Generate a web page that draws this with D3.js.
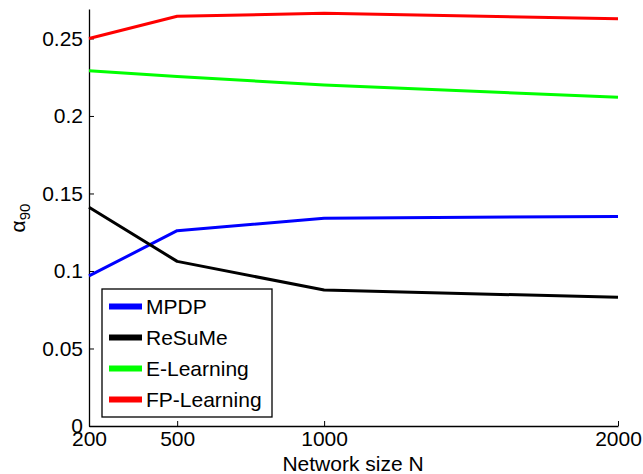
<!DOCTYPE html>
<html><head><meta charset="utf-8">
<script src="https://cdn.jsdelivr.net/npm/d3@7"></script>
<style>body{margin:0;background:#fff}svg{display:block;font-family:"Liberation Sans",Arial,sans-serif}</style>
</head><body>
<svg id="c" width="643" height="474"></svg>
<script>
const sizes = [200, 500, 1000, 2000];
const mpdp = [0.0968, 0.1260, 0.1340, 0.1352];
const resume = [0.1411, 0.1062, 0.0877, 0.0830];
const eLearning = [0.2292, 0.2254, 0.2200, 0.2120];
const fpLearning = [0.2500, 0.2643, 0.2662, 0.2627];
const seriesNames = ["MPDP", "ReSuMe", "E-Learning", "FP-Learning"];
const seriesColors = ["#0000ff", "#000000", "#00ff00", "#ff0000"];
const yTicks = [0, 0.05, 0.1, 0.15, 0.2, 0.25];
const yTickLabels = ["0", "0.05", "0.1", "0.15", "0.2", "0.25"];

const series = [mpdp, resume, eLearning, fpLearning];
const svg = d3.select("#c");
const L = 89, R = 618, T = 9, B = 426;
const x = d3.scaleLinear().domain([200, 2000]).range([L, R]);
const y = d3.scaleLinear().domain([0, 0.269]).range([B, T]);
const FS = 21;

// axes
const xAxis = d3.axisBottom(x).tickValues(sizes).tickFormat(d3.format("d")).tickSizeInner(-5).tickSizeOuter(0).tickPadding(6);
const gx = svg.append("g").attr("transform", `translate(0,${B})`).call(xAxis);
const yAxis = d3.axisLeft(y).tickValues(yTicks).tickFormat((d,i)=>yTickLabels[i]).tickSizeInner(-5).tickSizeOuter(0).tickPadding(6);
const gy = svg.append("g").attr("transform", `translate(${L},0)`).call(yAxis);
[gx, gy].forEach(g => {
  g.selectAll("text").attr("font-size", FS).attr("font-family", "Liberation Sans, Arial, sans-serif").attr("fill", "#000");
  g.selectAll("line").attr("stroke", "#000");
  g.select(".domain").attr("stroke", "#000").attr("stroke-width", 1.3);
});
gx.selectAll("text").attr("dy", "0.68em");
gy.selectAll("text").attr("dy", "0.33em");

// lines
const line = d3.line().x((d,i)=>x(sizes[i])).y(d=>y(d));
series.forEach((s, k) => {
  svg.append("path").datum(s).attr("d", line).attr("fill", "none")
    .attr("stroke", seriesColors[k]).attr("stroke-width", 3).attr("stroke-linejoin", "round");
});

// axis labels
svg.append("text").attr("x", 353).attr("y", 470.5).attr("text-anchor", "middle")
  .attr("font-size", FS).text("Network size N");
const yl = svg.append("text").attr("transform", "translate(25,218) rotate(-90)").attr("text-anchor", "middle").attr("font-size", FS);
yl.append("tspan").text("α");
yl.append("tspan").attr("font-size", 15).attr("dy", 5).text("90");

// legend
const lg = svg.append("g");
lg.append("rect").attr("x", 102).attr("y", 289).attr("width", 170).attr("height", 128)
  .attr("fill", "#fff").attr("stroke", "#000").attr("stroke-width", 1.3);
seriesNames.forEach((n, k) => {
  const yy = 306.5 + k * 31;
  lg.append("line").attr("x1", 109).attr("x2", 142).attr("y1", yy).attr("y2", yy)
    .attr("stroke", seriesColors[k]).attr("stroke-width", 6);
  lg.append("text").attr("x", 146).attr("y", yy).attr("dy", "0.36em").attr("font-size", FS).text(n);
});
</script>
</body></html>
